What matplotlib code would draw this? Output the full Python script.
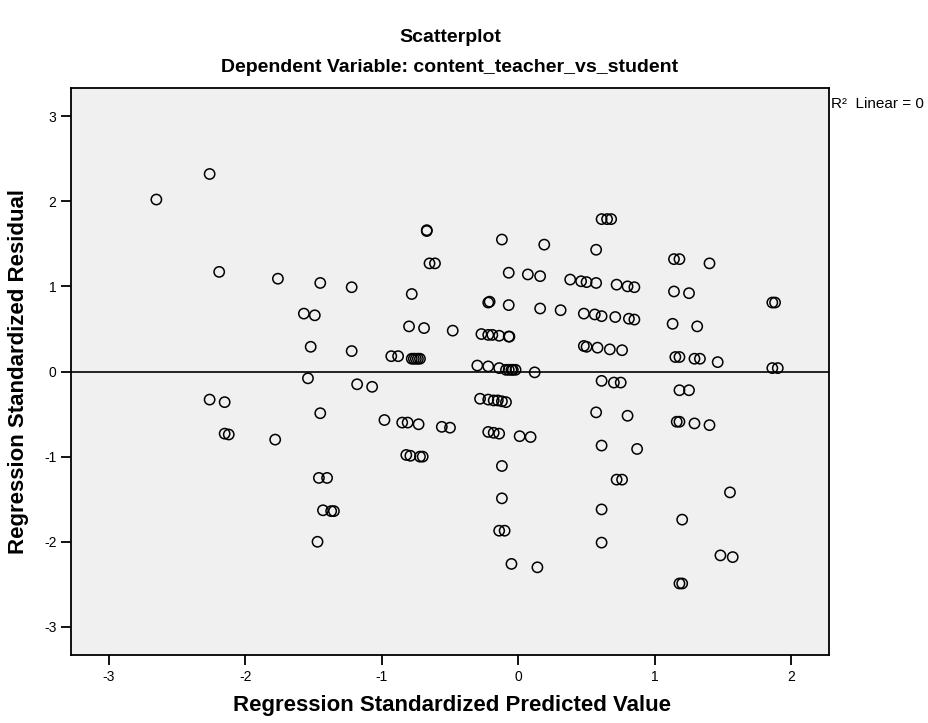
import numpy as np
import matplotlib.pyplot as plt

plt.rcParams['font.family'] = ['Liberation Sans', 'DejaVu Sans']
plt.rcParams['axes.unicode_minus'] = False

# Regression standardized predicted values (x) and residuals (y)
pred_left = [-2.65, -2.26, -2.19, -1.76, -1.45, -1.57, -1.49, -1.52, -1.54,
             -1.22, -1.22, -2.26, -2.15, -2.15, -2.12, -1.78,
             -1.18, -1.07, -1.45, -1.46, -1.40, -1.43, -1.37, -1.35, -1.47]
resid_left = [2.02, 2.32, 1.17, 1.09, 1.04, 0.68, 0.66, 0.29, -0.08,
              0.99, 0.24, -0.33, -0.36, -0.73, -0.74, -0.80,
              -0.15, -0.18, -0.49, -1.25, -1.25, -1.63, -1.64, -1.64, -2.00]

pred_mid = [-0.93, -0.88, -0.78, -0.765, -0.75, -0.735, -0.72,
            -0.67, -0.67, -0.65, -0.61, -0.78, -0.80, -0.69, -0.48,
            -0.12, 0.19, -0.07, 0.07, 0.16, -0.22, -0.21, -0.07, 0.16, 0.31,
            -0.27, -0.22, -0.19, -0.14, -0.07, -0.065,
            -0.30, -0.22, -0.14, -0.09, -0.07, -0.05, -0.04, -0.02, 0.12,
            -0.98, -0.85, -0.81, -0.73, -0.56, -0.50,
            -0.28, -0.22, -0.18, -0.15, -0.12, -0.09,
            -0.22, -0.18, -0.14, 0.01, 0.09,
            -0.82, -0.79, -0.72, -0.70, -0.12, -0.12,
            -0.14, -0.10, -0.05, 0.14]
resid_mid = [0.18, 0.18, 0.15, 0.15, 0.15, 0.15, 0.15,
             1.65, 1.66, 1.27, 1.27, 0.91, 0.53, 0.51, 0.48,
             1.55, 1.49, 1.16, 1.14, 1.12, 0.81, 0.82, 0.78, 0.74, 0.72,
             0.44, 0.43, 0.43, 0.42, 0.41, 0.41,
             0.07, 0.06, 0.04, 0.02, 0.02, 0.02, 0.02, 0.02, -0.01,
             -0.57, -0.60, -0.60, -0.62, -0.65, -0.66,
             -0.32, -0.33, -0.34, -0.34, -0.35, -0.36,
             -0.71, -0.72, -0.73, -0.76, -0.77,
             -0.98, -0.99, -1.00, -1.00, -1.11, -1.49,
             -1.87, -1.87, -2.26, -2.30]

pred_right = [0.61, 0.65, 0.68, 0.57, 1.14, 1.18, 1.40,
              0.38, 0.46, 0.50, 0.57, 0.72, 0.80, 0.85, 1.14, 1.25, 1.86, 1.88,
              0.48, 0.56, 0.61, 0.71, 0.81, 0.85, 1.13, 1.31,
              0.48, 0.50, 0.58, 0.67, 0.76, 1.15, 1.18, 1.29, 1.33, 1.46, 1.86, 1.90,
              0.61, 0.70, 0.75, 1.18, 1.25, 0.57, 0.80, 1.16, 1.18, 1.29, 1.40,
              0.61, 0.87, 0.72, 0.76, 1.55, 0.61, 1.20, 0.61, 1.48, 1.57, 1.18, 1.20]
resid_right = [1.79, 1.79, 1.79, 1.43, 1.32, 1.32, 1.27,
               1.08, 1.06, 1.05, 1.04, 1.02, 1.00, 0.99, 0.94, 0.92, 0.81, 0.81,
               0.68, 0.67, 0.65, 0.64, 0.62, 0.61, 0.56, 0.53,
               0.30, 0.29, 0.28, 0.26, 0.25, 0.17, 0.17, 0.15, 0.15, 0.11, 0.04, 0.04,
               -0.11, -0.13, -0.13, -0.22, -0.22, -0.48, -0.52, -0.59, -0.59, -0.61, -0.63,
               -0.87, -0.91, -1.27, -1.27, -1.42, -1.62, -1.74, -2.01, -2.16, -2.18, -2.49, -2.49]

pred = np.array(pred_left + pred_mid + pred_right)
resid = np.array(resid_left + resid_mid + resid_right)

fig = plt.figure(figsize=(9.29, 7.23), dpi=100)
ax = fig.add_axes([71/929, 68/723, 758/929, 567/723])
ax.set_facecolor('#f0f0f0')

ax.axhline(0, color='black', lw=1.2, zorder=1)
ax.scatter(pred, resid, s=55, facecolors='none', edgecolors='black',
           linewidths=1.1, zorder=2)

ax.set_xlim(-3.275, 2.275)
ax.set_ylim(-3.33, 3.33)
ax.set_xticks(range(-3, 3))
ax.set_yticks(range(-3, 4))
ax.tick_params(direction='out', length=7, width=1.3, labelsize=10)
for s in ax.spines.values():
    s.set_linewidth(1.3)

fig.text(450/929, 1 - 38/723, 'Scatterplot', ha='center', va='center',
         fontsize=14, fontweight='bold')
fig.text(450/929, 1 - 67/723, 'Dependent Variable: content_teacher_vs_student',
         ha='center', va='center', fontsize=14, fontweight='bold')
fig.text(452/929, 1 - 705/723, 'Regression Standardized Predicted Value',
         ha='center', va='center', fontsize=16, fontweight='bold')
fig.text(19/929, 1 - 372/723, 'Regression Standardized Residual',
         ha='center', va='center', rotation=90, fontsize=16, fontweight='bold')
ax.text(1.003, 0.971, 'R²  Linear = 0', transform=ax.transAxes,
        ha='left', va='center', fontsize=11)

plt.savefig('out.png', dpi=100)
